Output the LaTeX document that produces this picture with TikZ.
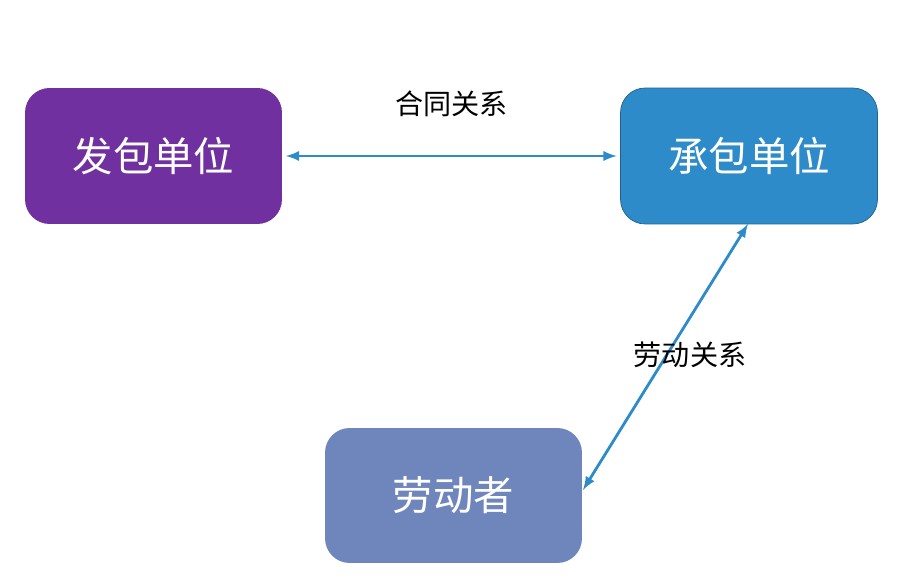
\documentclass[tikz,border=0pt]{standalone}
\usepackage{fontspec}
\newfontfamily\cjk{Noto Sans CJK SC}
\usepackage{tikz}
\definecolor{purpleunit}{HTML}{7030A0}
\definecolor{blueunit}{HTML}{2E8BCA}
\definecolor{worker}{HTML}{6F86BD}
\definecolor{arrowblue}{HTML}{2E8BCA}
\tikzset{
  unit/.style={rectangle, rounded corners=14pt, minimum width=5.14cm,
    minimum height=2.72cm, text=white, font=\cjk\fontsize{23}{27}\selectfont},
  link/.style={<->, >=latex, line width=1.6pt, draw=arrowblue},
  rel/.style={font=\cjk\fontsize{16}{19}\selectfont}
}
\begin{document}
\begin{tikzpicture}[x=0.02cm, y=-0.02cm]
\useasboundingbox (0,0) rectangle (916,580);

% Units
\node[unit, fill=purpleunit] (Employer) at (153.5,156) {发包单位};
\node[unit, fill=blueunit, draw=blueunit!70!black] (Contractor) at (749,156) {承包单位};
\node[unit, fill=worker, minimum height=2.7cm] (Worker) at (453.5,495.5) {劳动者};

% Relations
\draw[link, shorten <=2pt, shorten >=2pt] (Employer) -- (Contractor)
    node[rel, midway, above=18pt] {合同关系};
\coordinate (Top) at (748,224);
\coordinate (Bottom) at (583,490);
\draw[link] (Top) -- (Bottom);
\node[rel] (Label) at (690,355) {劳动关系};

\end{tikzpicture}
\end{document}
